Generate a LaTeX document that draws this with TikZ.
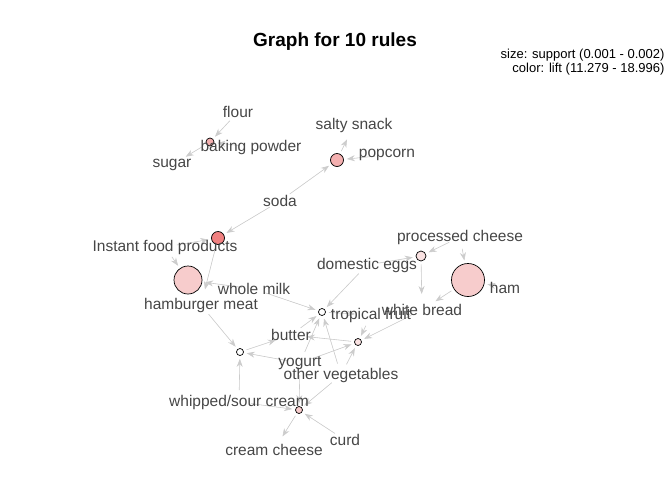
\documentclass[tikz,border=0pt]{standalone}
\usepackage{fontspec}
\setmainfont{Liberation Sans}
\usetikzlibrary{arrows.meta,backgrounds}

\definecolor{itemgray}{RGB}{70,70,70}
\definecolor{edgegray}{RGB}{204,204,204}
\definecolor{liftA}{RGB}{240,128,128}
\definecolor{liftB}{RGB}{244,176,176}
\definecolor{liftC}{RGB}{247,204,204}
\definecolor{liftD}{RGB}{250,226,226}

\begin{document}
\begin{tikzpicture}[
    x=1pt, y=-1pt,
    item/.style={text=itemgray, font=\fontsize{15.5}{18}\selectfont, inner sep=0pt, yshift=-2pt},
    rule/.style={circle, draw=black, line width=0.7pt, inner sep=0pt},
    arrow/.style={-{Stealth[length=8pt,width=6pt]}, draw=edgegray, fill=edgegray, line width=0.6pt},
    inarrow/.style={arrow, shorten <=12pt, shorten >=3pt},
    outarrow/.style={arrow, shorten <=3pt, shorten >=16pt}
]
\useasboundingbox (0,0) rectangle (672,480);

% Title and legend
\node[font=\bfseries\fontsize{19}{22}\selectfont] (title) at (335,42) {Graph for 10 rules};
\node[anchor=east, align=right, font=\fontsize{13}{14}\selectfont] (legend) at (668,62)
    {size: support (0.001 - 0.002)\\color: lift (11.279 - 18.996)};

% Rules
\node[rule, fill=liftB, minimum size=8pt] (r1) at (210,142) {};
\node[rule, fill=liftB, minimum size=13pt] (r2) at (337,160) {};
\node[rule, fill=liftA, minimum size=13pt] (r3) at (218,238) {};
\node[rule, fill=liftC, minimum size=28pt] (r4) at (188,280) {};
\node[rule, fill=liftC, minimum size=33pt] (r5) at (468,280) {};
\node[rule, fill=liftD, minimum size=10pt] (r6) at (421,256) {};
\node[rule, fill=white, minimum size=7pt] (r7) at (322,312) {};
\node[rule, fill=liftD, minimum size=7pt] (r8) at (358,342) {};
\node[rule, fill=white, minimum size=7pt] (r9) at (240,352) {};
\node[rule, fill=liftC, minimum size=7pt] (r10) at (299,410) {};

% Items
\node[item] (flour) at (238,110) {flour};
\node[item] (bakingpowder) at (251,145) {baking powder};
\node[item] (sugar) at (172,163) {sugar};
\node[item] (saltysnack) at (354,123) {salty snack};
\node[item] (popcorn) at (387,153) {popcorn};
\node[item] (soda) at (280,199) {soda};
\node[item] (instant) at (165,245) {Instant food products};
\node[item] (hamburger) at (201,303) {hamburger meat};
\node[item] (wholemilk) at (254,287) {whole milk};
\node[item] (processed) at (460,235) {processed cheese};
\node[item] (domestic) at (367,263) {domestic eggs};
\node[item] (ham) at (505,286) {ham};
\node[item] (whitebread) at (422,308) {white bread};
\node[item] (tropical) at (371,313) {tropical fruit};
\node[item] (butter) at (291,333) {butter};
\node[item] (yogurt) at (300,361) {yogurt};
\node[item] (othervegetables) at (341,373) {other vegetables};
\node[item] (whipped) at (239,400) {whipped/sour cream};
\node[item] (creamcheese) at (274,448) {cream cheese};
\node[item] (curd) at (345,438) {curd};

% Edges
\begin{pgfonlayer}{background}
\draw[inarrow] (flour.center) -- (r1);
\draw[inarrow] (bakingpowder.center) -- (r1);
\draw[outarrow] (r1) -- (sugar.center);

\draw[inarrow] (soda.center) -- (r2);
\draw[inarrow] (popcorn.center) -- (r2);
\draw[outarrow] (r2) -- (saltysnack.center);

\draw[inarrow] (soda.center) -- (r3);
\draw[inarrow] (instant.center) -- (r3);
\draw[outarrow] (r3) -- (hamburger.center);

\draw[inarrow] (instant.center) -- (r4);
\draw[inarrow] (wholemilk.center) -- (r4);
\draw[outarrow] (r4) -- (hamburger.center);

\draw[inarrow] (ham.center) -- (r5);
\draw[inarrow] (processed.center) -- (r5);
\draw[outarrow] (r5) -- (whitebread.center);

\draw[inarrow] (processed.center) -- (r6);
\draw[inarrow] (domestic.center) -- (r6);
\draw[outarrow] (r6) -- (whitebread.center);

\draw[inarrow] (wholemilk.center) -- (r7);
\draw[inarrow] (domestic.center) -- (r7);
\draw[inarrow] (butter.center) -- (r7);
\draw[inarrow] (yogurt.center) -- (r7);
\draw[inarrow] (othervegetables.center) -- (r7);
\draw[outarrow] (r7) -- (tropical.center);

\draw[inarrow] (tropical.center) -- (r8);
\draw[inarrow] (othervegetables.center) -- (r8);
\draw[inarrow] (yogurt.center) -- (r8);
\draw[inarrow] (whitebread.center) -- (r8);
\draw[outarrow] (r8) -- (butter.center);

\draw[inarrow] (hamburger.center) -- (r9);
\draw[inarrow] (yogurt.center) -- (r9);
\draw[inarrow] (whipped.center) -- (r9);
\draw[outarrow] (r9) -- (butter.center);

\draw[inarrow] (othervegetables.center) -- (r10);
\draw[inarrow] (curd.center) -- (r10);
\draw[inarrow] (yogurt.center) -- (r10);
\draw[inarrow] (whipped.center) -- (r10);
\draw[outarrow] (r10) -- (creamcheese.center);
\end{pgfonlayer}

\end{tikzpicture}
\end{document}
